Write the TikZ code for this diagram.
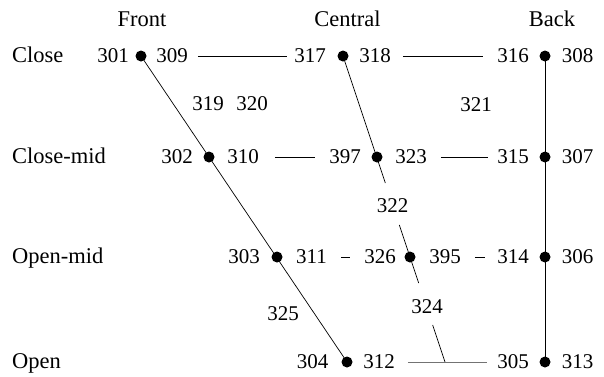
\documentclass[tikz,border=0pt]{standalone}
\usepackage{fontspec}
\setmainfont{Liberation Serif}
\newfontfamily\chartfont{Liberation Serif}
\usetikzlibrary{calc}
\begin{document}
\begin{tikzpicture}[x=1pt,y=-1pt,
  every node/.style={font=\chartfont\fontsize{21}{24}\selectfont},
  num/.style={inner sep=0pt, text height=13.5pt, text depth=0pt, anchor=center},
  head/.style={inner sep=0pt, anchor=base, font=\chartfont\fontsize{22.5}{26}\selectfont},
  rowlbl/.style={inner sep=0pt, anchor=base west, font=\chartfont\fontsize{22.5}{26}\selectfont},
  dot/.style={circle, fill=black, inner sep=0pt, minimum size=11pt},
  vline/.style={line width=0.7pt, black},
  hl/.style={line width=0.7pt, black},
  hlgray/.style={line width=0.9pt, black!55}]
\useasboundingbox (0,0) rectangle (604,376);
% headers
\node[head] (hFront) at (142,26) {Front};
\node[head] (hCentral) at (347.5,26) {Central};
\node[head] (hBack) at (552,26) {Back};
% row labels
\node[rowlbl] (rClose) at (12,62.5) {Close};
\node[rowlbl] (rCloseMid) at (12,163.5) {Close-mid};
\node[rowlbl] (rOpenMid) at (12,263.5) {Open-mid};
\node[rowlbl] (rOpen) at (12,368.5) {Open};
% dots
\node[dot] (d1) at (141,56) {};
\node[dot] (d2) at (209,157) {};
\node[dot] (d3) at (277,257) {};
\node[dot] (d4) at (347,362) {};
\node[dot] (c1) at (343,56) {};
\node[dot] (c2) at (377,157) {};
\node[dot] (c3) at (410,257) {};
\node[dot] (b1) at (545,56) {};
\node[dot] (b2) at (545,157) {};
\node[dot] (b3) at (545,257) {};
\node[dot] (b4) at (545,362) {};
\coordinate (cj) at (445,362);
% numbers: close row
\node[num] (n301) at (113,56) {301};
\node[num] (n309) at (172,56) {309};
\node[num] (n317) at (310,56) {317};
\node[num] (n318) at (375,56) {318};
\node[num] (n316) at (513,56) {316};
\node[num] (n308) at (577.5,56) {308};
% close-mid row
\node[num] (n302) at (177,157) {302};
\node[num] (n310) at (243,157) {310};
\node[num] (n397) at (345,157) {397};
\node[num] (n323) at (411,157) {323};
\node[num] (n315) at (513,157) {315};
\node[num] (n307) at (577.5,157) {307};
% open-mid row
\node[num] (n303) at (244,257) {303};
\node[num] (n311) at (311.5,257) {311};
\node[num] (n326) at (380,257) {326};
\node[num] (n395) at (445,257) {395};
\node[num] (n314) at (513,257) {314};
\node[num] (n306) at (577.5,257) {306};
% open row
\node[num] (n304) at (312.5,362) {304};
\node[num] (n312) at (379,362) {312};
\node[num] (n305) at (513,362) {305};
\node[num] (n313) at (577.5,362) {313};
% middle labels
\node[num] (n319) at (208,104) {319};
\node[num] (n320) at (252,104) {320};
\node[num] (n321) at (476,105) {321};
\node[num] (n322) at (392.5,206) {322};
\node[num] (n324) at (427,307) {324};
\node[num] (n325) at (283,314) {325};
% vertical / slanted lines
\draw[vline] (d1.center) -- (d4.center);
\draw[vline] (b1.center) -- (b4.center);
\draw[vline] (c1.center) -- ($(c1.center)!0.415!(cj)$);
\draw[vline] ($(c1.center)!0.552!(cj)$) -- ($(c1.center)!0.742!(cj)$);
\draw[vline] ($(c1.center)!0.879!(cj)$) -- (cj);
% horizontal lines
\draw[hl, shorten <=10pt, shorten >=7pt] (n309) -- (n317);
\draw[hl, shorten <=12pt, shorten >=14pt] (n318) -- (n316);
\draw[hl, shorten <=16pt, shorten >=14pt] (n310) -- (n397);
\draw[hl, shorten <=14pt, shorten >=9pt] (n323) -- (n315);
\draw[hl, shorten <=14pt, shorten >=14pt] (n311) -- (n326);
\draw[hl, shorten <=14pt, shorten >=12pt] (n395) -- (n314);
\draw[hlgray, shorten <=13pt, shorten >=10pt] (n312) -- (n305);
\end{tikzpicture}
\end{document}
